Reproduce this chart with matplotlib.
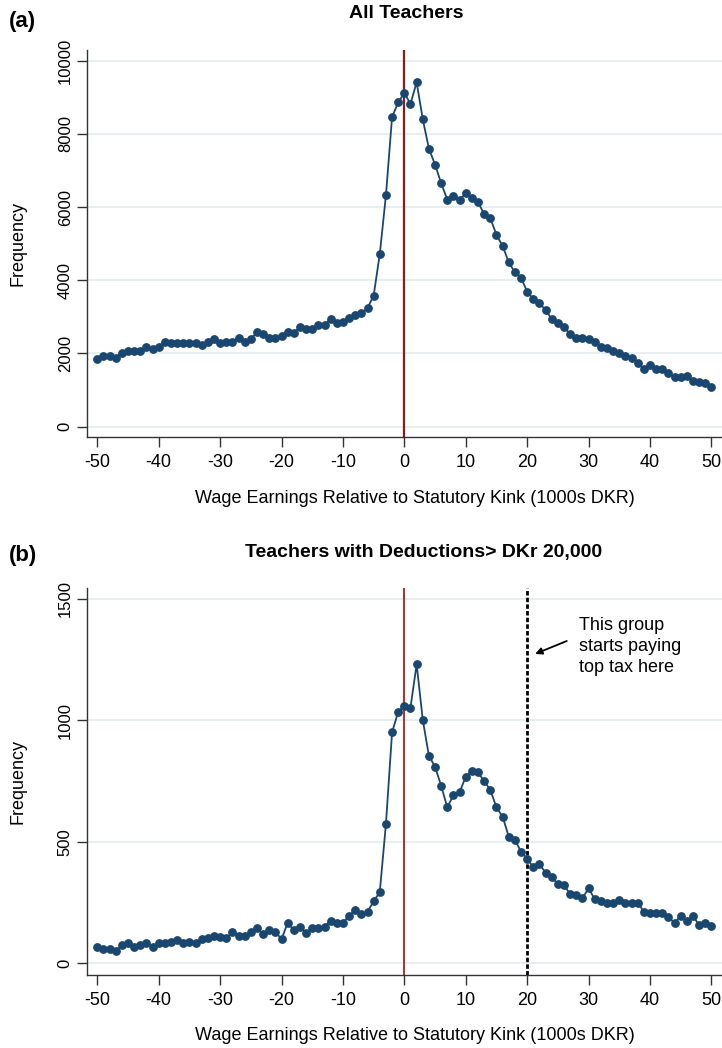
import matplotlib

matplotlib.use("Agg")

import matplotlib.pyplot as plt  # noqa: E402
import numpy as np  # noqa: E402

plt.rcParams["font.family"] = ["Liberation Sans", "DejaVu Sans"]

# --------------------------------------------------------------------------- #
# Data (bins of 1000 DKR relative to the kink)
# --------------------------------------------------------------------------- #
earnings_bins = np.arange(-50, 51)

all_teachers = [
    1840, 1930, 1930, 1890, 2020, 2080, 2080, 2080, 2190, 2130,
    2190, 2320, 2280, 2280, 2280, 2280, 2280, 2230, 2320, 2390,
    2280, 2320, 2320, 2430, 2320, 2390, 2580, 2530, 2430, 2430,
    2490, 2600, 2550, 2730, 2680, 2680, 2780, 2780, 2940, 2830,
    2860, 2960, 3040, 3100, 3240, 3580, 4720, 6320, 8460, 8860,
    9120,
    8820, 9410, 8400, 7600, 7160, 6650, 6200, 6290, 6200, 6380,
    6240, 6130, 5810, 5700, 5240, 4940, 4490, 4220, 4070, 3690,
    3490, 3370, 3190, 2940, 2840, 2720, 2530, 2430, 2430, 2390,
    2320, 2190, 2160, 2070, 2020, 1930, 1870, 1730, 1580, 1690,
    1580, 1580, 1480, 1370, 1370, 1390, 1260, 1230, 1190, 1080,
]

high_deductions = [
    66, 60, 60, 52, 74, 82, 66, 75, 82, 66,
    82, 82, 89, 96, 82, 89, 82, 99, 106, 112,
    110, 103, 130, 112, 112, 130, 144, 121, 137, 130,
    99, 167, 137, 148, 126, 144, 144, 151, 176, 167,
    167, 195, 220, 203, 213, 255, 294, 574, 951, 1036,
    1061,
    1053, 1231, 1003, 854, 810, 730, 642, 693, 704, 769,
    792, 786, 750, 714, 642, 604, 522, 508, 460, 431,
    395, 409, 373, 354, 327, 323, 284, 281, 268, 309,
    264, 258, 250, 250, 261, 250, 250, 250, 213, 209,
    209, 206, 189, 167, 195, 176, 195, 158, 165, 154,
]

x_ticks = [-50, -40, -30, -20, -10, 0, 10, 20, 30, 40, 50]
ticks_a = [0, 2000, 4000, 6000, 8000, 10000]
ticks_b = [0, 500, 1000, 1500]
kink = 0
top_tax_start = 20

LINE_COLOR = "#1a476f"
GRID_COLOR = "#e6eef0"
X_LABEL = "Wage Earnings Relative to Statutory Kink (1000s DKR)"

W, H = 722, 1048


def fx(px):
    return px / W


def fy(py):
    return 1 - py / H


def style_axes(ax, yticks, ylim):
    ax.set_xlim(-51.73, 51.73)
    ax.set_ylim(*ylim)
    ax.set_xticks(x_ticks)
    ax.set_xticklabels([str(t) for t in x_ticks])
    ax.set_yticks(yticks)
    ax.set_yticklabels([str(t) for t in yticks], rotation=90, va="center")
    ax.tick_params(axis="x", length=7, width=1.0, pad=5, labelsize=13,
                   color="#333333")
    ax.tick_params(axis="y", length=7, width=1.0, pad=3, labelsize=12,
                   color="#333333")
    for side in ("top", "right"):
        ax.spines[side].set_visible(False)
    for side in ("left", "bottom"):
        ax.spines[side].set_color("#333333")
        ax.spines[side].set_linewidth(1.0)
    ax.grid(axis="y", color=GRID_COLOR, linewidth=1.4)
    ax.set_axisbelow(True)


fig = plt.figure(figsize=(7.22, 10.48), dpi=100)

ax_a = fig.add_axes([fx(86.7), fy(437.3), fx(722 - 86.7), (437.3 - 50) / H])
ax_b = fig.add_axes([fx(86.7), fy(975), fx(722 - 86.7), (975 - 588.3) / H])

# panel (a)
style_axes(ax_a, ticks_a, (-290, 10292))
ax_a.axvline(kink, color="#8b1a1a", linewidth=1.6, zorder=2)
ax_a.plot(earnings_bins, all_teachers, color=LINE_COLOR, linewidth=1.3,
          marker="o", markersize=5.3, zorder=3)

# panel (b)
style_axes(ax_b, ticks_b, (-48, 1544))
ax_b.axvline(kink, color="#b01c1c", linewidth=1.3, zorder=2)
ax_b.axvline(top_tax_start, color="black", linewidth=2.0,
             linestyle=(0, (1.6, 0.8)), zorder=2)
ax_b.plot(earnings_bins, high_deductions, color=LINE_COLOR, linewidth=1.3,
          marker="o", markersize=5.3, zorder=3)
ax_b.annotate("", xy=(21.3, 1274), xytext=(26.45, 1327),
              arrowprops=dict(arrowstyle="-|>", color="black", lw=1.3,
                              mutation_scale=10, shrinkA=0, shrinkB=0))
ax_b.text(28.4, 1303, "This group\nstarts paying\ntop tax here",
          ha="left", va="center", fontsize=13, linespacing=1.32)

# titles, panel letters and axis labels
fig.text(fx(406), fy(14), "All Teachers", ha="center", va="center",
         fontsize=14, fontweight="bold")
fig.text(fx(423.5), fy(552), "Teachers with Deductions> DKr 20,000",
         ha="center", va="center", fontsize=14, fontweight="bold")
fig.text(fx(22), fy(22), "(a)", ha="center", va="center", fontsize=16,
         fontweight="bold")
fig.text(fx(23), fy(556), "(b)", ha="center", va="center", fontsize=16,
         fontweight="bold")

for spine_y in (437.3, 975):
    fig.text(fx(415), fy(spine_y + 61), X_LABEL, ha="center", va="center",
             fontsize=13)

fig.text(fx(18), fy(243), "Frequency", rotation=90, ha="center", va="center",
         fontsize=13)
fig.text(fx(18), fy(781), "Frequency", rotation=90, ha="center", va="center",
         fontsize=13)

fig.savefig("out.png", dpi=100)
plt.close(fig)
